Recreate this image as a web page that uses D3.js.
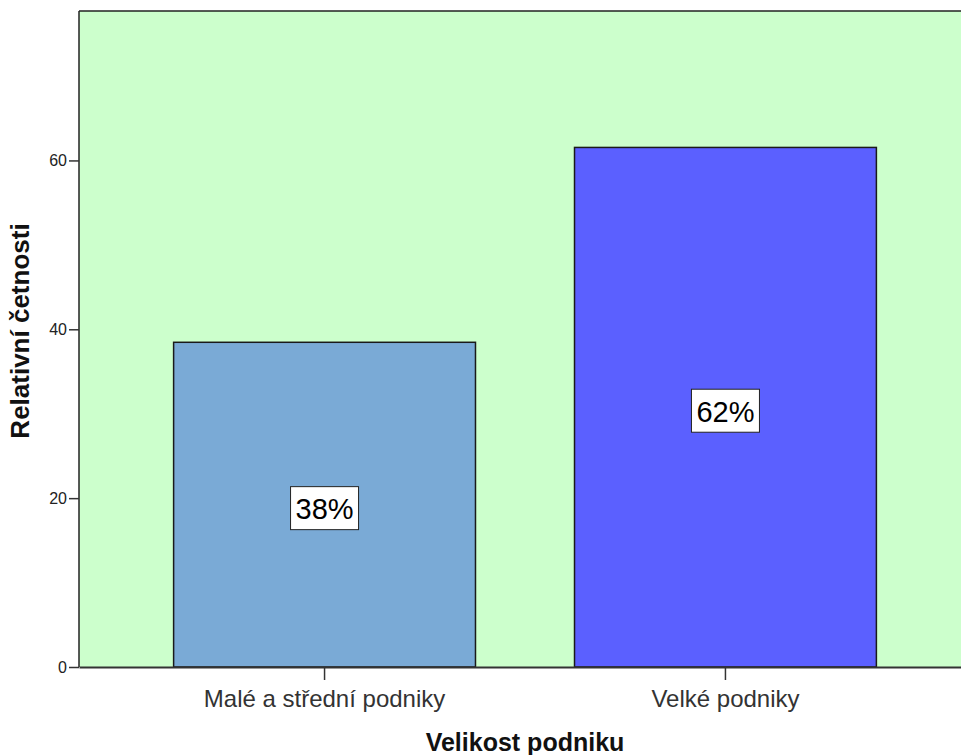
<!DOCTYPE html>
<html>
<head>
<meta charset="utf-8">
<script src="https://cdn.jsdelivr.net/npm/d3@7"></script>
<style>
  body { margin: 0; background: #fff; }
  svg text { font-family: "Liberation Sans", Arial, sans-serif; }
</style>
</head>
<body>
<svg width="961" height="755"></svg>
<script>
var categories = ["Malé a střední podniky", "Velké podniky"];
var values = [38.46, 61.54];
var labels = ["38%", "62%"];
var barColors = ["#7aaad6", "#5b60ff"];
var yTicks = [0, 20, 40, 60];

var svg = d3.select("svg"),
  margin = { top: 11, right: -10, bottom: 88, left: 79 },
  width = +svg.attr("width") - margin.left - margin.right,
  height = +svg.attr("height") - margin.top - margin.bottom;

var x = d3.scaleBand()
  .domain(categories)
  .range([0, width])
  .paddingInner(0.247)
  .paddingOuter(0.236);

var y = d3.scaleLinear()
  .domain([0, 77.7])
  .range([height, 0]);

var g = svg.append("g")
  .attr("transform", "translate(" + margin.left + "," + margin.top + ")");

// plot background
g.append("rect")
  .attr("width", width)
  .attr("height", height)
  .attr("fill", "#ccffcc");

// bars
g.selectAll(".bar")
  .data(values)
  .enter()
  .append("rect")
  .attr("class", "bar")
  .attr("x", function(d, i) { return x(categories[i]); })
  .attr("y", function(d) { return y(d); })
  .attr("width", x.bandwidth())
  .attr("height", function(d) { return height - y(d); })
  .attr("fill", function(d, i) { return barColors[i]; })
  .attr("stroke", "#1a1a1a")
  .attr("stroke-width", 1.5);

// frame (left and top)
g.append("line")
  .attr("x1", 0).attr("x2", 0)
  .attr("y1", 0).attr("y2", height)
  .attr("stroke", "#222").attr("stroke-width", 1.5);
g.append("line")
  .attr("x1", 0).attr("x2", width)
  .attr("y1", 0).attr("y2", 0)
  .attr("stroke", "#222").attr("stroke-width", 1.5);

// value labels
var lab = g.selectAll(".lab")
  .data(values)
  .enter()
  .append("g")
  .attr("class", "lab")
  .attr("transform", function(d, i) {
    return "translate(" + (x(categories[i]) + x.bandwidth() / 2) + "," + (y(d / 2) + 4) + ")";
  });

lab.append("rect")
  .attr("x", -34)
  .attr("y", -22)
  .attr("width", 68)
  .attr("height", 43)
  .attr("fill", "#fff")
  .attr("stroke", "#222")
  .attr("stroke-width", 1);

lab.append("text")
  .attr("text-anchor", "middle")
  .attr("dy", "0.36em")
  .attr("font-size", 29)
  .attr("fill", "#000")
  .text(function(d, i) { return labels[i]; });

// y axis
var yAxis = d3.axisLeft(y).tickValues(yTicks).tickSize(10).tickPadding(2);
var yg = g.append("g").call(yAxis);
yg.select(".domain").remove();
yg.selectAll(".tick line").attr("stroke", "#333").attr("stroke-width", 1.5);
yg.selectAll(".tick text")
  .attr("font-size", 16)
  .attr("fill", "#222")
  .style("font-family", "'Liberation Sans', Arial, sans-serif");

// x axis
var xAxis = d3.axisBottom(x).tickSize(13).tickPadding(10).tickSizeOuter(0);
var xg = g.append("g")
  .attr("transform", "translate(0," + height + ")")
  .call(xAxis);
xg.select(".domain").attr("stroke", "#333").attr("stroke-width", 2);
xg.selectAll(".tick line").attr("stroke", "#333").attr("stroke-width", 1.5);
xg.selectAll(".tick text")
  .attr("font-size", 24)
  .attr("fill", "#333")
  .style("font-family", "'Liberation Sans', Arial, sans-serif");

// axis titles
svg.append("text")
  .attr("x", 525)
  .attr("y", 751)
  .attr("text-anchor", "middle")
  .attr("font-size", 25)
  .attr("font-weight", "bold")
  .attr("fill", "#111")
  .text("Velikost podniku");

svg.append("text")
  .attr("transform", "translate(29,331) rotate(-90)")
  .attr("text-anchor", "middle")
  .attr("font-size", 26)
  .attr("font-weight", "bold")
  .attr("fill", "#111")
  .text("Relativní četnosti");
</script>
</body>
</html>
